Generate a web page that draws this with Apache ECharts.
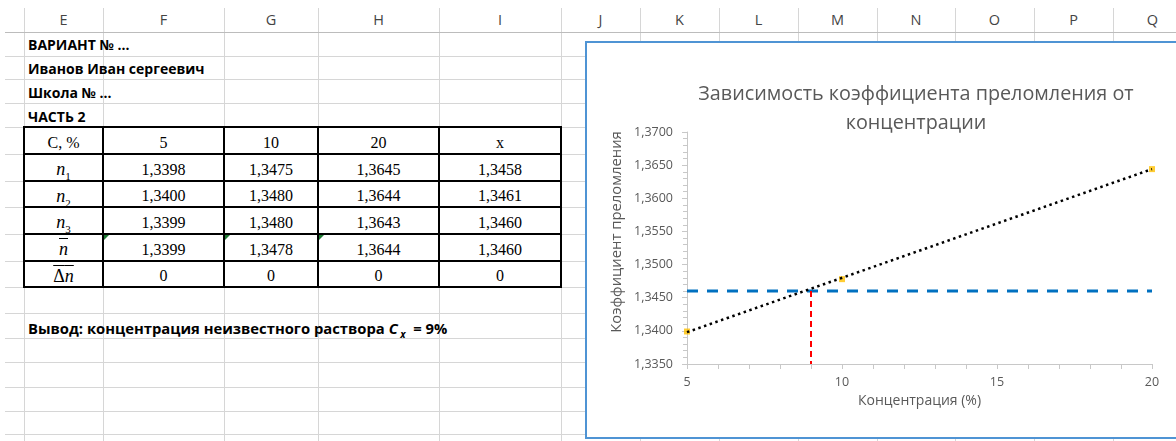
<!DOCTYPE html>
<html>
<head>
<meta charset="utf-8">
<title>Зависимость коэффициента преломления от концентрации</title>
<script src="https://cdn.jsdelivr.net/npm/echarts@6/dist/echarts.min.js"></script>
<style>
  html, body { margin: 0; padding: 0; background: #fff; }
  body { width: 1176px; height: 441px; overflow: hidden; position: relative; font-family: 'Open Sans', 'Noto Sans', sans-serif; }
  .hl { position: absolute; height: 1px; background: #d6d6d6; }
  .vl { position: absolute; width: 1px; background: #d6d6d6; }
  .colhdr { position: absolute; top: 8px; height: 24px; line-height: 24px; text-align: center; font-size: 14.5px; color: #444; }
  .note { position: absolute; left: 28px; height: 20px; line-height: 20px; font-weight: bold; font-size: 14px; color: #000; white-space: nowrap; }
  .cell { position: absolute; text-align: center; font-family: 'Liberation Serif', 'Times New Roman', serif; font-size: 16px; color: #000; white-space: nowrap; }
  .tb { position: absolute; background: #000; }
  .mark { position: absolute; width: 0; height: 0; border-top: 5px solid #1e7b34; border-right: 5px solid transparent; }
  #frame { position: absolute; left: 585px; top: 41px; width: 700px; height: 398px; box-sizing: border-box; border: 2px solid #4f94d4; background: #fff; }
  #chart { position: absolute; left: 586px; top: 42px; width: 660px; height: 396px; }
</style>
</head>
<body>
<div id="sheet"></div>
<div id="frame"></div>
<div id="chart"></div>
<script>
// ---- measurements ----
const columnLetters = ['E', 'F', 'G', 'H', 'I', 'J', 'K', 'L', 'M', 'N', 'O', 'P', 'Q'];
const headerRow = ['C, %', '5', '10', '20', 'x'];
const concentrations = [5, 10, 20];
const n1 = [1.3398, 1.3475, 1.3645, 1.3458];
const n2 = [1.3400, 1.3480, 1.3644, 1.3461];
const n3 = [1.3399, 1.3480, 1.3643, 1.3460];
const nMean = [1.3399, 1.3478, 1.3644, 1.3460];
const nDelta = [0, 0, 0, 0];
const unknownConcentration = 9;              // C_x, %
const trendEnds = [[5, 1.3398], [20, 1.3644]]; // linear trendline ends
const notes = ['ВАРИАНТ № ...', 'Иванов Иван сергеевич', 'Школа № ...', 'ЧАСТЬ 2'];

// ---- sheet grid layout ----
const colX = [24, 103, 224, 318, 439, 561, 640, 719, 798, 877, 955, 1034, 1113, 1192];
const rowY = [32, 56, 79, 103, 127, 154, 181, 207, 234, 261, 287, 313, 338, 362, 387, 411, 434];
const sheet = document.getElementById('sheet');
function add(cls, css, html) {
  const d = document.createElement('div');
  d.className = cls;
  Object.assign(d.style, css);
  if (html !== undefined) d.innerHTML = html;
  sheet.appendChild(d);
  return d;
}
const fmt = v => v.toFixed(4).replace('.', ',');

colX.forEach(x => add('vl', { left: x + 'px', top: '8px', height: '433px' }));
rowY.forEach((y, i) => add('hl', { left: '5px', top: y + 'px', width: '1171px', background: i === 0 ? '#bcbcbc' : '#d6d6d6' }));
columnLetters.forEach((c, i) => add('colhdr', { left: colX[i] + 'px', width: (colX[i + 1] - colX[i]) + 'px' }, c));

const noteCenters = [45, 69, 93, 117];
notes.forEach((t, i) => add('note', { top: (noteCenters[i] - 10) + 'px' }, t));

// table
const tX = colX.slice(0, 6);
const tY = rowY.slice(4, 11);
const rowHeads = [
  headerRow[0],
  '<i>n</i><sub style="font-size:11px">1</sub>',
  '<i>n</i><sub style="font-size:11px">2</sub>',
  '<i>n</i><sub style="font-size:11px">3</sub>',
  '<i style="text-decoration:overline">n</i>',
  '<span style="text-decoration:overline">Δ<i>n</i></span>'
];
const body = [
  headerRow.slice(1),
  n1.map(fmt), n2.map(fmt), n3.map(fmt), nMean.map(fmt), nDelta.map(String)
];
for (let r = 0; r < 6; r++) {
  const top = tY[r], h = tY[r + 1] - tY[r];
  add('cell', { left: tX[0] + 'px', top: (top + 2) + 'px', width: (tX[1] - tX[0]) + 'px', height: h + 'px', lineHeight: h + 'px', fontSize: r === 0 ? '16px' : '18px' }, rowHeads[r]);
  for (let c = 0; c < 4; c++) {
    add('cell', { left: tX[c + 1] + 'px', top: (top + 2) + 'px', width: (tX[c + 2] - tX[c + 1]) + 'px', height: h + 'px', lineHeight: h + 'px' }, body[r][c]);
  }
}
tX.forEach(x => add('tb', { left: (x - 1) + 'px', top: (tY[0] - 1) + 'px', width: '2px', height: (tY[6] - tY[0] + 2) + 'px' }));
tY.forEach(y => add('tb', { left: (tX[0] - 1) + 'px', top: (y - 1) + 'px', width: (tX[5] - tX[0] + 2) + 'px', height: '2px' }));
[1, 2, 3].forEach(c => add('mark', { left: (tX[c] + 1) + 'px', top: (tY[4] + 1) + 'px' }));

add('note', { top: '318px', fontSize: '14.8px' },
  'Вывод: концентрация неизвестного раствора <i>C</i><sub style="font-size:10px"><i>&nbsp;x</i></sub>&nbsp;&nbsp;= ' + unknownConcentration + '%');

// ---- chart ----
const chart = echarts.init(document.getElementById('chart'), null, { renderer: 'canvas' });
const gray = '#595959';
const axisGray = '#c8c8c8';
const meanPoints = concentrations.map((c, i) => [c, nMean[i]]);
const nx = nMean[3];

chart.setOption({
  animation: false,
  backgroundColor: 'transparent',
  title: {
    text: 'Зависимость коэффициента преломления от\nконцентрации',
    left: 'center',
    top: 33,
    textStyle: { fontFamily: 'Open Sans', fontSize: 19.8, fontWeight: 'normal', color: gray, lineHeight: 29 }
  },
  grid: { left: 101, top: 90, width: 465, height: 232 },
  xAxis: {
    type: 'value', min: 5, max: 20, interval: 5,
    name: 'Концентрация (%)', nameLocation: 'middle', nameGap: 25,
    nameTextStyle: { fontFamily: 'Open Sans', fontSize: 14, color: gray },
    axisLine: { show: true, lineStyle: { color: axisGray, width: 1 } },
    axisTick: { show: true, length: 5, lineStyle: { color: axisGray } },
    minorTick: { show: true, splitNumber: 5, length: 5, lineStyle: { color: axisGray } },
    splitLine: { show: false },
    axisLabel: { margin: 12, fontFamily: 'Open Sans', fontSize: 12.5, color: gray }
  },
  yAxis: {
    type: 'value', min: 1.335, max: 1.37, interval: 0.005,
    axisLine: { show: true, lineStyle: { color: axisGray, width: 1 } },
    axisTick: { show: true, length: 5, lineStyle: { color: axisGray } },
    minorTick: { show: true, splitNumber: 5, length: 4, lineStyle: { color: axisGray } },
    splitLine: { show: false },
    axisLabel: { margin: 14, fontFamily: 'Open Sans', fontSize: 12.5, color: gray, formatter: v => fmt(v) }
  },
  graphic: [{
    type: 'text', x: 31, y: 190, rotation: Math.PI / 2,
    style: { text: 'Коэффициент преломления', fontFamily: 'Open Sans', fontSize: 14.8, fill: gray, align: 'center', verticalAlign: 'middle' }
  }],
  series: [
    {
      type: 'line', name: 'n(x)', data: [[5, nx], [20, nx]], symbol: 'none', z: 2,
      lineStyle: { color: '#0070c0', width: 3, type: [11, 9] }
    },
    {
      type: 'line', name: 'C(x)', data: [[unknownConcentration, nx], [unknownConcentration, 1.335]], symbol: 'none', z: 2,
      lineStyle: { color: '#ff0000', width: 2, type: [6, 4] }
    },
    {
      type: 'scatter', name: 'n̄', data: meanPoints, symbol: 'rect', symbolSize: 6, z: 3,
      itemStyle: { color: '#ffc000' }
    },
    {
      type: 'line', name: 'trend', data: trendEnds, symbol: 'none', z: 4,
      lineStyle: { color: '#000', width: 2.5, type: [2.5, 3.5] }
    }
  ]
});
</script>
</body>
</html>
